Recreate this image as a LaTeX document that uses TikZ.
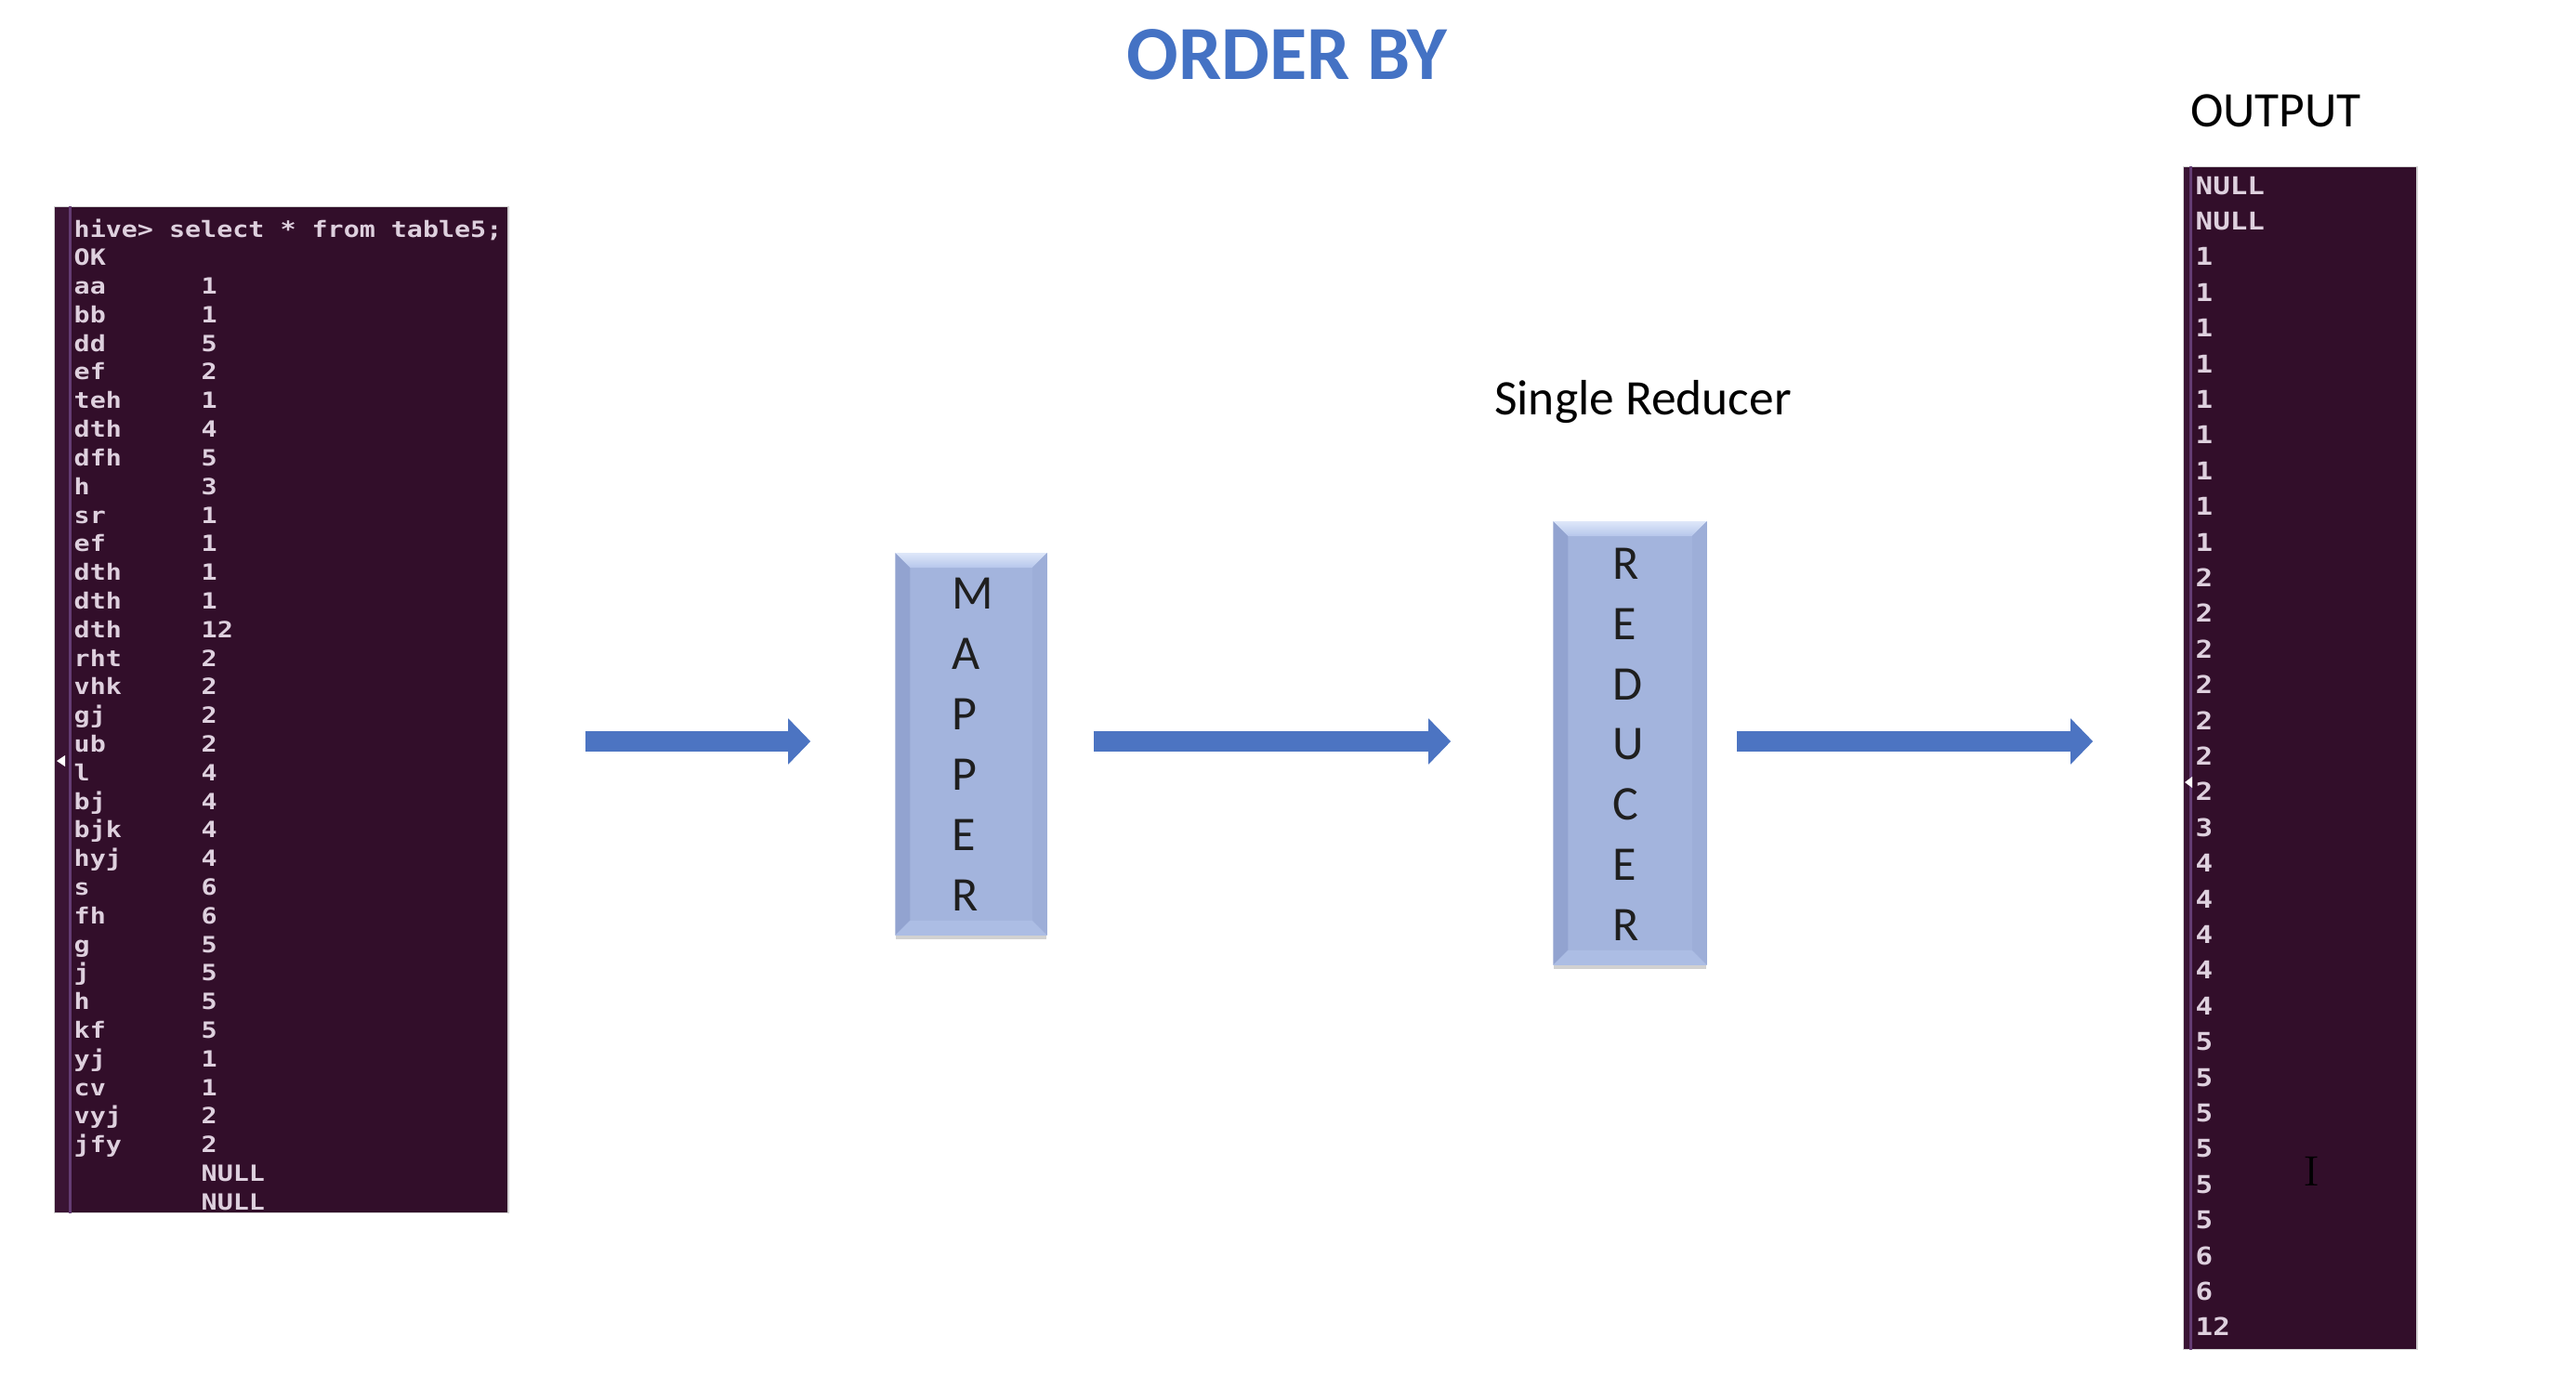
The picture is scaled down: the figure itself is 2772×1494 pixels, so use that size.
\documentclass[tikz,border=0pt]{standalone}
\usepackage{fontspec}
\usetikzlibrary{arrows.meta,shadows}
\newfontfamily\calibri{Carlito}
\newfontfamily\termfont{DejaVu Sans Mono}[FakeStretch=1.18]
\newfontfamily\outfont{DejaVu Sans Mono}[FakeStretch=1.17]
\definecolor{termbg}{RGB}{50,14,42}
\definecolor{termstrip}{RGB}{58,20,52}
\definecolor{termline}{RGB}{100,60,115}
\definecolor{termtext}{RGB}{222,208,222}
\definecolor{titleblue}{RGB}{68,114,196}
\definecolor{arrowblue}{RGB}{76,116,194}
\definecolor{boxfill}{RGB}{163,180,221}
\definecolor{bevleft}{RGB}{146,163,208}
\definecolor{bevright}{RGB}{157,174,216}
\definecolor{bevbottom}{RGB}{172,189,228}
\definecolor{bevtopA}{RGB}{222,231,249}
\definecolor{bevtopB}{RGB}{182,198,235}
\tikzset{
  termbox/.style={rectangle, fill=termbg, draw=gray!35, line width=0.4pt, inner sep=0pt},
  termtxt/.style={text=termtext, font=\termfont\bfseries\fontsize{6.83}{7}\selectfont, inner sep=0pt, anchor=base west},
  outtxt/.style={text=termtext, font=\outfont\bfseries\fontsize{7.5}{8}\selectfont, inner sep=0pt, anchor=base west},
  procbox/.style={rectangle, fill=boxfill, inner sep=0pt,
     drop shadow={shadow xshift=0cm, shadow yshift=-0.05cm, opacity=0.18, fill=black}},
  boxletter/.style={font=\calibri\fontsize{14.8}{16}\selectfont, text=black!88, inner sep=0pt, anchor=west},
  bigarrow/.style={draw=arrowblue, line width=0.22cm, -{Triangle[length=0.24cm, width=0.48cm]}},
  label/.style={font=\calibri\fontsize{15.2}{18}\selectfont, text=black, inner sep=0pt}
}
\newcommand\mybevel[1]{%
  \shade[top color=bevtopA, bottom color=bevtopB] (#1.north west) -- (#1.north east) -- ([shift={(-16,16)}]#1.north east) -- ([shift={(16,16)}]#1.north west) -- cycle;
  \fill[bevleft] (#1.north west) -- ([shift={(16,16)}]#1.north west) -- ([shift={(16,-16)}]#1.south west) -- (#1.south west) -- cycle;
  \fill[bevright] (#1.north east) -- ([shift={(-16,16)}]#1.north east) -- ([shift={(-16,-16)}]#1.south east) -- (#1.south east) -- cycle;
  \fill[bevbottom] (#1.south west) -- ([shift={(16,-16)}]#1.south west) -- ([shift={(-16,-16)}]#1.south east) -- (#1.south east) -- cycle;
}
\begin{document}
\begin{tikzpicture}[x=0.01cm, y=-0.01cm]
\useasboundingbox[fill=white] (0,0) rectangle (2772,1494);

% title and labels
\node[font=\calibri\bfseries\fontsize{23.4}{28}\selectfont, text=titleblue, inner sep=0pt] (title) at (1385,59) {ORDER BY};
\node[label] (outlbl) at (2449,119) {OUTPUT};
\node[label, anchor=base] (srlbl) at (1768,446) {Single Reducer};

% input terminal
\node[termbox, minimum width=4.88cm, minimum height=10.82cm] (term) at (303,764) {};
\fill[termstrip] ([shift={(1,1)}]term.north west) rectangle ([shift={(17,-1)}]term.south west);
\draw[termline, line width=0.03cm] ([xshift=0.17cm]term.north west) -- ([xshift=0.17cm]term.south west);
\fill[white] (61,819) -- (70,813) -- (70,825) -- cycle;
\node[termtxt] (hdr) at (79,255) {hive> select * from table5;};
\node[termtxt] (ok) at (79,285.8) {OK};
\foreach \n/\v [count=\i from 3] in {aa/1,bb/1,dd/5,ef/2,teh/1,dth/4,dfh/5,h/3,sr/1,ef/1,dth/1,dth/1,dth/12,rht/2,vhk/2,gj/2,ub/2,l/4,bj/4,bjk/4,hyj/4,s/6,fh/6,g/5,j/5,h/5,kf/5,yj/1,cv/1,vyj/2,jfy/2}{
  \node[termtxt] (n\i) at (79,{255+(\i-1)*30.8}) {\n};
  \node[termtxt] (v\i) at (216,{255+(\i-1)*30.8}) {\v};
}
\node[termtxt] (v34) at (216,{255+33*30.8}) {NULL};
\node[termtxt] (v35) at (216,{255+34*30.8}) {NULL};

% output terminal
\node[termbox, minimum width=2.51cm, minimum height=12.72cm] (out) at (2475.5,816) {};
\fill[termstrip] ([shift={(1,1)}]out.north west) rectangle ([shift={(8,-1)}]out.south west);
\draw[termline, line width=0.03cm] ([xshift=0.08cm]out.north west) -- ([xshift=0.08cm]out.south west);
\fill[white] (2351,842) -- (2359,836) -- (2359,848) -- cycle;
\foreach \v [count=\i] in {NULL,NULL,1,1,1,1,1,1,1,1,1,2,2,2,2,2,2,2,3,4,4,4,4,4,5,5,5,5,5,5,6,6,12}{
  \node[outtxt] (o\i) at (2362,{209+(\i-1)*38.4}) {\v};
}
\node[text={RGB:red,200;green,190;blue,200}, font=\fontsize{13}{13}\selectfont, inner sep=0pt] (cursor) at (2488,1261) {I};

% mapper
\node[procbox, minimum width=1.62cm, minimum height=4.10cm] (mp) at (1045,801) {};
\mybevel{mp}
\foreach \c [count=\i] in {M,A,P,P,E,R}{
  \node[boxletter] (m\i) at (1024,{639+(\i-1)*65}) {\c};
}

% reducer
\node[procbox, minimum width=1.64cm, minimum height=4.76cm] (rd) at (1754,800) {};
\mybevel{rd}
\foreach \c [count=\i] in {R,E,D,U,C,E,R}{
  \node[boxletter] (r\i) at (1735,{607+(\i-1)*64.8}) {\c};
}

% arrows
\draw[bigarrow, shorten <=0.82cm, shorten >=0.91cm] (term.east |- 0,798) -- (mp.west |- 0,798);
\draw[bigarrow, shorten <=0.50cm, shorten >=1.10cm] (mp.east |- 0,798) -- (rd.west |- 0,798);
\draw[bigarrow, shorten <=0.32cm, shorten >=0.97cm] (rd.east |- 0,798) -- (out.west |- 0,798);
\end{tikzpicture}
\end{document}
